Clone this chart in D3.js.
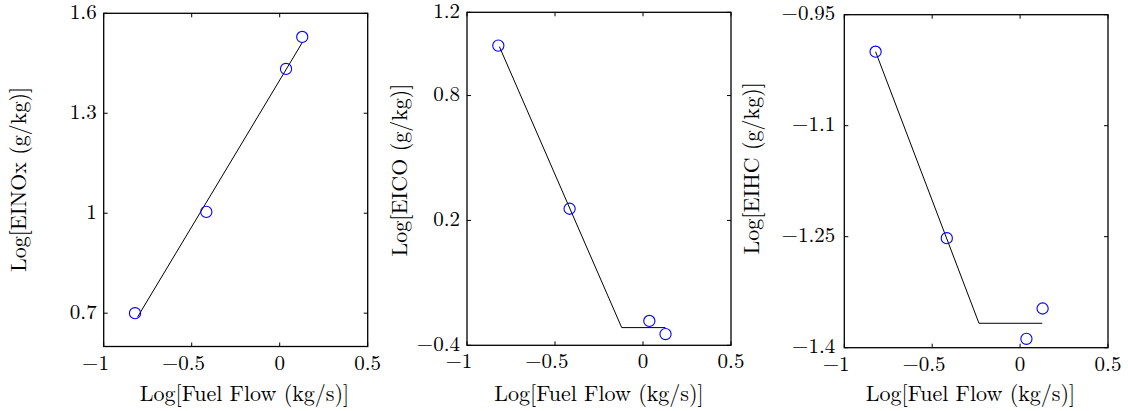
<!DOCTYPE html>
<html>
<head>
<meta charset="utf-8">
<script src="https://cdn.jsdelivr.net/npm/d3@7"></script>
<style>
  html, body { margin: 0; padding: 0; background: #fff; }
</style>
</head>
<body>
<svg id="chart" width="1128" height="411"></svg>
<script>
// ---- data ----
const xTicks = [-1, -0.5, 0, 0.5];
const fuelFlow = [-0.822, -0.417, 0.036, 0.128];

const noxVals = [0.700, 1.004, 1.433, 1.529];
const noxFitX = [-0.807, 0.128];
const noxFitY = [0.689, 1.512];
const noxTicks = [0.7, 1, 1.3, 1.6];

const coVals = [1.040, 0.256, -0.283, -0.346];
const coFitX = [-0.816, -0.121, 0.127];
const coFitY = [1.035, -0.315, -0.315];
const coTicks = [-0.4, 0.2, 0.8, 1.2];

const hcVals = [-1.000, -1.252, -1.388, -1.347];
const hcFitX = [-0.822, -0.234, 0.126];
const hcFitY = [-1.000, -1.367, -1.367];
const hcTicks = [-1.4, -1.25, -1.1, -0.95];

const yLabels = ["Log[EINOx (g/kg)]", "Log[EICO (g/kg)]", "Log[EIHC (g/kg)]"];
const xLabel = "Log[Fuel Flow (kg/s)]";

// ---- layout ----
const panels = [
  { box: [103.7, 13.3, 367.7, 346.5], yDom: [0.6, 1.6], ticks: noxTicks, vals: noxVals, fx: noxFitX, fy: noxFitY,
    ylab: yLabels[0], ylabX: 25.5, ylabY: 179.5, xlabX: 244.5, tickGap: 7 },
  { box: [467, 12.3, 731, 345.3], yDom: [-0.4, 1.2], ticks: coTicks, vals: coVals, fx: coFitX, fy: coFitY,
    ylab: yLabels[1], ylabX: 406.7, ylabY: 170, xlabX: 599, tickGap: 7 },
  { box: [844.3, 14.7, 1108, 347.7], yDom: [-1.4, -0.95], ticks: hcTicks, vals: hcVals, fx: hcFitX, fy: hcFitY,
    ylab: yLabels[2], ylabX: 759.3, ylabY: 168.3, xlabX: 970.5, tickGap: 9 }
];

const FS_TICK = 21;
const FS_LAB = 22;
const FONT = "'Latin Modern Roman', 'Liberation Serif', 'DejaVu Serif', serif";
const svg = d3.select("#chart").attr("font-family", FONT);

function fmt(v) {
  let s = String(+v.toFixed(2));
  return s.replace("-", "\u2212");
}

const tmp = svg.append("text").attr("font-family", FONT).attr("font-size", FS_TICK).text("\u2212");
const minusW = tmp.node().getComputedTextLength();
tmp.remove();

panels.forEach(p => {
  const [x0, y0, x1, y1] = p.box;
  const x = d3.scaleLinear().domain([-1, 0.5]).range([x0, x1]);
  const y = d3.scaleLinear().domain(p.yDom).range([y1, y0]);
  const g = svg.append("g").attr("font-family", FONT);
  const TL = 4;

  xTicks.forEach(t => {
    g.append("line").attr("x1", x(t)).attr("x2", x(t)).attr("y1", y1).attr("y2", y1 - TL)
      .attr("stroke", "#000").attr("stroke-width", 1);
    g.append("line").attr("x1", x(t)).attr("x2", x(t)).attr("y1", y0).attr("y2", y0 + TL)
      .attr("stroke", "#000").attr("stroke-width", 1);
    const neg = t < 0;
    g.append("text").attr("x", x(t) - (neg ? minusW / 2 : 0)).attr("y", y1 + 23)
      .attr("text-anchor", "middle").attr("font-size", FS_TICK).text(fmt(t));
  });
  p.ticks.forEach(t => {
    g.append("line").attr("x1", x0).attr("x2", x0 + TL).attr("y1", y(t)).attr("y2", y(t))
      .attr("stroke", "#000").attr("stroke-width", 1);
    g.append("line").attr("x1", x1).attr("x2", x1 - TL).attr("y1", y(t)).attr("y2", y(t))
      .attr("stroke", "#000").attr("stroke-width", 1);
    g.append("text").attr("x", x0 - p.tickGap).attr("y", y(t) + 5.5)
      .attr("text-anchor", "end").attr("font-size", FS_TICK).text(fmt(t));
  });

  g.append("rect").attr("x", x0).attr("y", y0).attr("width", x1 - x0).attr("height", y1 - y0)
    .attr("fill", "none").attr("stroke", "#000").attr("stroke-width", 1.3);

  const line = d3.line().x(d => x(d[0])).y(d => y(d[1]));
  g.append("path").datum(p.fx.map((v, i) => [v, p.fy[i]])).attr("d", line)
    .attr("fill", "none").attr("stroke", "#000").attr("stroke-width", 1);

  g.selectAll("circle.pt").data(fuelFlow.map((v, i) => [v, p.vals[i]])).enter()
    .append("circle").attr("class", "pt")
    .attr("cx", d => x(d[0])).attr("cy", d => y(d[1])).attr("r", 5.6)
    .attr("fill", "none").attr("stroke", "#0000ff").attr("stroke-width", 1.1);

  g.append("text").attr("x", p.xlabX).attr("y", 401).attr("text-anchor", "middle")
    .attr("font-size", FS_LAB).text(xLabel);
  g.append("text").attr("transform", `translate(${p.ylabX},${p.ylabY}) rotate(-90)`)
    .attr("text-anchor", "middle").attr("font-size", FS_LAB).text(p.ylab);
});
</script>
</body>
</html>
